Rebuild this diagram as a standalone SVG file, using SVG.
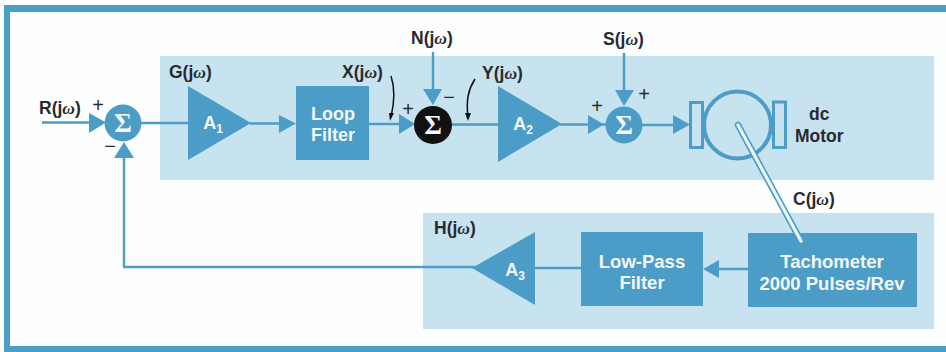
<svg xmlns="http://www.w3.org/2000/svg" width="946" height="352" viewBox="0 0 946 352">
<style>
.f{fill:#4b9dc8}
.p{fill:#c6e3ef}
.l{fill:none;stroke:#4b9dc8;stroke-width:2.4}
.t{font-family:"Liberation Sans",Arial,sans-serif;font-weight:700;font-size:17.5px;fill:#2a2a2e}
.w{font-family:"Liberation Sans",Arial,sans-serif;font-weight:700;font-size:18px;fill:#f2f8fb;text-anchor:middle}
.n{font-size:18.500px}
.o{font-family:"Liberation Serif",serif;font-style:italic}
.s{font-family:"Liberation Serif",serif;font-weight:700;font-size:27px;fill:#f2f8fb;text-anchor:middle}
.m{font-family:"Liberation Sans",Arial,sans-serif;font-weight:400;font-size:20px;fill:#2a2a2e;text-anchor:middle}
.sub{font-size:12px}
</style>
<rect width="946" height="352" fill="#fdfefe"/>
<path id="frame" fill="#4b9dc8" d="M4 5H946V12H10V346H946V352H4Z"/>
<rect id="panel-g" class="p" x="160" y="56" width="774" height="124"/>
<rect id="panel-h" class="p" x="423" y="213" width="511" height="116"/>
<g id="connectors">
<path class="l" d="M42 122.500H95M140 123H190M250 123.500H282M369 124H403M452 124.500H500M560 124.500H610M640 125H675"/>
<path class="l" d="M433 52V90M624 53V92M124 267V150M123 267H475M535 268H583M715 269H748"/>
<path class="f" d="M89 113L106 122.500L89 133ZM279 115L296 123.500L279 133ZM399 114L415 124L399 134ZM423 89H442L433 105ZM588 115L604 124.500L588 134ZM615 90H634L624 106ZM673 115L690 124.500L673 134ZM124 142L134 158H114ZM703 269L719 260V278Z"/>
<path fill="none" stroke="#111" stroke-width="1.5" d="M391 76C395 88 395 100 391 117M475 79C468 90 466 100 468 117"/>
<path fill="#111" d="M389 113L394 113L390 121ZM465 113L471 113L468 121Z"/>
</g>
<g id="sum-1"><circle class="f" cx="123" cy="123" r="18.500"/><text class="s" x="123" y="132">Σ</text></g>
<g id="sum-2"><circle cx="433" cy="125" r="19" fill="#111"/><text class="s" x="433" y="134">Σ</text></g>
<g id="sum-3"><circle class="f" cx="624" cy="125" r="18.500"/><text class="s" x="624" y="134">Σ</text></g>
<g id="a1"><path class="f" d="M188 86L251 123L188 160Z"/><text class="w" x="213" y="129">A<tspan class="sub" dy="4">1</tspan></text></g>
<g id="a2"><path class="f" d="M498 86L562 124L498 162Z"/><text class="w" x="523" y="130">A<tspan class="sub" dy="4">2</tspan></text></g>
<g id="a3"><path class="f" d="M472 268L535 232V305Z"/><text class="w" x="515" y="276">A<tspan class="sub" dy="4">3</tspan></text></g>
<g id="loop-filter"><rect class="f" x="296" y="86" width="73" height="74"/><text class="w" x="333" y="120">Loop</text><text class="w" x="333" y="141">Filter</text></g>
<g id="low-pass-filter"><rect class="f" x="581" y="232" width="122" height="74"/><text class="w n" x="642" y="268">Low-Pass</text><text class="w n" x="642" y="289">Filter</text></g>
<g id="tachometer"><rect class="f" x="748" y="233" width="169" height="74"/><text class="w n" x="832" y="268">Tachometer</text><text class="w n" x="832" y="290">2000 Pulses/Rev</text></g>
<g id="motor">
<circle cx="737.500" cy="125" r="33.500" fill="none" stroke="#4b9dc8" stroke-width="4"/>
<rect x="690.500" y="102.500" width="12" height="45" fill="#c6e3ef" stroke="#4b9dc8" stroke-width="3"/><rect x="773.500" y="102" width="12" height="45.500" fill="#c6e3ef" stroke="#4b9dc8" stroke-width="3"/>
<path d="M738 125L801 241" stroke="#4b9dc8" stroke-width="6.500" stroke-linecap="round" fill="none"/><path d="M738 125L801 241" stroke="#eef7fb" stroke-width="3.200" stroke-linecap="round" fill="none"/>
<text class="t" x="809" y="120">dc</text><text class="t" x="795" y="142">Motor</text></g>
<g id="labels">
<text class="t" x="39" y="114">R(j<tspan class="o">ω</tspan>)</text>
<text class="t" x="169" y="78">G(j<tspan class="o">ω</tspan>)</text>
<text class="t" x="342" y="78">X(j<tspan class="o">ω</tspan>)</text>
<text class="t" x="411" y="44">N(j<tspan class="o">ω</tspan>)</text>
<text class="t" x="482" y="79">Y(j<tspan class="o">ω</tspan>)</text>
<text class="t" x="603" y="45">S(j<tspan class="o">ω</tspan>)</text>
<text class="t" x="793" y="205">C(j<tspan class="o">ω</tspan>)</text>
<text class="t" x="434" y="234">H(j<tspan class="o">ω</tspan>)</text>
<text class="m" x="98" y="112">+</text><text class="m" x="110" y="153">−</text><text class="m" x="408" y="116">+</text><text class="m" x="449" y="104">−</text><text class="m" x="597" y="113">+</text><text class="m" x="644" y="101">+</text>
</g>
</svg>
